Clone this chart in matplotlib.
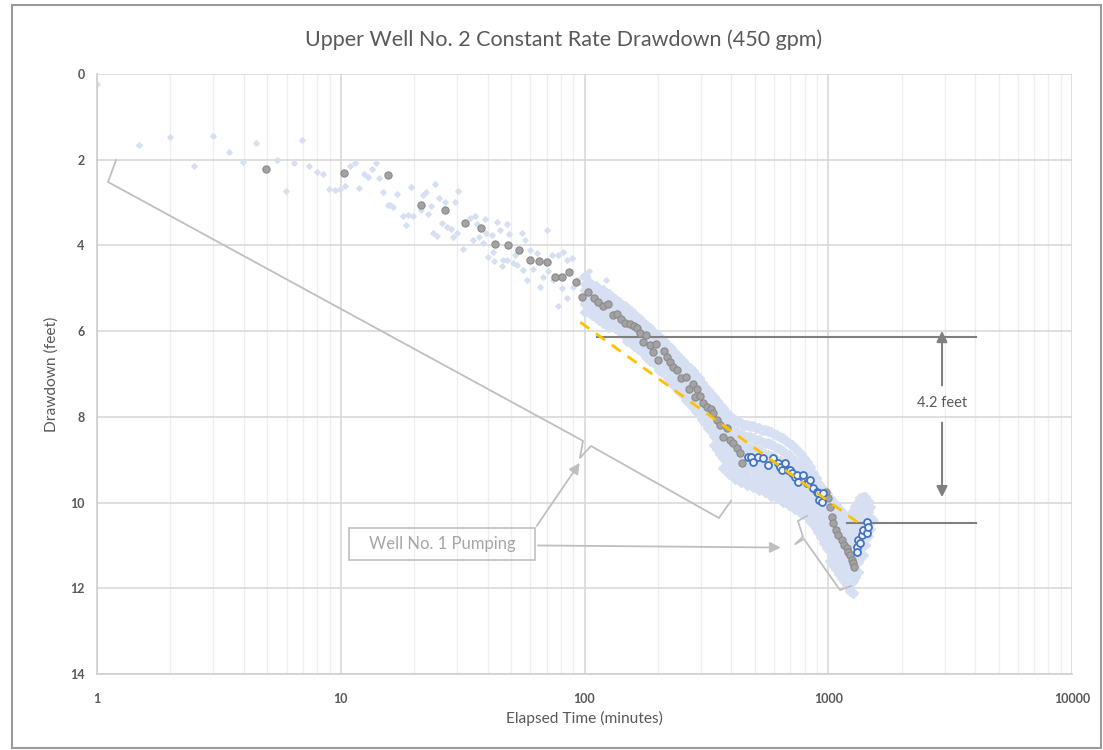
"""Upper Well No. 2 constant rate drawdown plot (semi-log)."""

import matplotlib
import matplotlib.pyplot as plt
from matplotlib.patches import Rectangle
from matplotlib.ticker import LogLocator, NullFormatter

matplotlib.use("Agg")

plt.rcParams["font.family"] = ["Lato", "DejaVu Sans"]

TEXT = "#595959"
GRID = "#d9d9d9"
MINOR = "#eeeeee"
CLOUD = "#d6e0f2"
GRAY_FILL = "#a3a3a3"
GRAY_EDGE = "#8a8a8a"
BLUE = "#4472c4"
ORANGE = "#ffc000"
NOTE = "#bfbfbf"
DARK = "#7f7f7f"

# ---- raw transducer readings (light blue cloud) ----
# early, sparse readings
sparse_t = [1.0, 1.49, 1.99, 2.50, 2.98, 3.49, 3.98, 4.48, 5.47, 5.97, 6.45, 6.95,
            7.43, 7.96, 8.43, 8.95, 9.45, 9.94, 10.4, 10.9, 11.4, 11.9, 12.4, 12.9,
            13.4, 13.9, 14.4, 14.9, 15.6, 17.0, 19.4, 21.7, 22.4, 24.4, 15.9, 16.4,
            18.0, 18.9, 19.8, 18.5, 21.3, 22.9, 23.4, 25.3, 26.8, 29.4, 30.2, 26.0,
            27.4, 28.3, 23.8, 24.8, 28.8, 29.9, 31.8, 32.3, 33.9, 35.6, 36.3, 39.1,
            39.4, 35.0, 37.0, 38.5, 41.6, 43.6, 45.0, 40.3, 42.3, 42.5, 45.7, 46.2,
            48.0, 48.0, 49.1, 50.8, 51.9, 52.7, 55.3, 55.8, 57.0, 57.9, 59.8, 61.7,
            63.7, 65.7, 67.8, 70.0, 71.0, 73.4, 74.1, 78.1, 78.1, 80.6, 81.8, 84.5,
            85.0, 88.6, 89.9, 92.9, 97.4, 98.9, 104, 105, 110, 116, 123]
sparse_d = [0.23, 1.66, 1.48, 2.15, 1.45, 1.83, 2.06, 1.61, 2.01, 2.73, 2.08, 1.55,
            2.15, 2.29, 2.33, 2.69, 2.71, 2.69, 2.61, 2.15, 2.08, 2.67, 2.33, 2.41,
            2.22, 2.08, 2.42, 2.75, 3.06, 2.81, 2.63, 2.82, 2.75, 2.57, 3.06, 3.11,
            3.31, 3.29, 3.31, 3.52, 3.17, 3.27, 3.08, 2.90, 2.99, 2.98, 2.72, 3.47,
            3.56, 3.62, 3.70, 3.77, 3.81, 3.70, 4.09, 3.47, 3.35, 3.31, 3.51, 3.38,
            3.72, 3.87, 3.81, 3.95, 3.76, 3.45, 3.64, 4.28, 4.15, 4.36, 4.48, 4.34,
            4.34, 3.51, 3.73, 4.40, 4.22, 4.46, 3.72, 4.57, 3.87, 4.81, 4.11, 4.56,
            4.18, 4.96, 4.73, 3.64, 4.59, 4.22, 4.81, 4.22, 5.41, 5.00, 4.15, 4.34,
            5.23, 4.30, 4.96, 4.81, 4.73, 5.35, 4.59, 5.55, 4.96, 5.66, 4.81]

# dense readings, grouped by time column
dense_cols = [
    (100, [4.72, 4.9, 5.04, 5.2, 5.36, 5.55]),
    (104, [4.85, 5.0, 5.14, 5.3, 5.5]),
    (107, [4.92, 5.1, 5.24, 5.4, 5.62]),
    (111, [4.95, 5.08, 5.2, 5.34, 5.5, 5.68]),
    (115, [5.02, 5.18, 5.33, 5.47, 5.74]),
    (119, [5.05, 5.2, 5.36, 5.5, 5.64, 5.8]),
    (122, [5.12, 5.26, 5.4, 5.55, 5.72]),
    (126, [5.14, 5.3, 5.46, 5.6, 5.9]),
    (130, [5.22, 5.38, 5.52, 5.66, 5.82]),
    (134, [5.25, 5.42, 5.56, 5.72, 5.92]),
    (138, [5.32, 5.48, 5.64, 5.8, 6.0]),
    (142, [5.38, 5.52, 5.68, 5.85]),
    (146, [5.42, 5.6, 5.76, 5.92, 6.12]),
    (150, [5.48, 5.66, 5.82, 6.0, 6.22]),
    (155, [5.54, 5.72, 5.88, 6.04, 6.2]),
    (160, [5.6, 5.78, 5.94, 6.1, 6.34]),
    (164, [5.66, 5.84, 6.0, 6.18, 6.4]),
    (169, [5.72, 5.9, 6.06, 6.22]),
    (174, [5.8, 5.98, 6.14, 6.3, 6.5]),
    (179, [5.86, 6.04, 6.2, 6.38, 6.6]),
    (185, [5.92, 6.1, 6.28, 6.46, 6.7]),
    (190, [6.0, 6.18, 6.34, 6.52]),
    (196, [6.06, 6.24, 6.42, 6.6, 6.8]),
    (202, [6.12, 6.3, 6.48, 6.66, 6.9]),
    (208, [6.2, 6.38, 6.56, 6.74, 6.96]),
    (214, [6.26, 6.44, 6.62, 6.82]),
    (220, [6.34, 6.52, 6.7, 6.9, 7.1]),
    (226, [6.4, 6.6, 6.78, 6.96, 7.2]),
    (233, [6.48, 6.68, 6.86, 7.04, 7.26]),
    (240, [6.56, 6.76, 6.94, 7.12, 7.34]),
    (247, [6.62, 6.82, 7.02, 7.2, 7.42]),
    (254, [6.7, 6.9, 7.1, 7.3, 7.5]),
    (262, [6.78, 6.98, 7.18, 7.38, 7.6]),
    (270, [6.86, 7.06, 7.26, 7.46, 7.7]),
    (278, [6.94, 7.14, 7.34, 7.54, 7.76]),
    (286, [7.02, 7.24, 7.44, 7.64, 7.86]),
    (295, [7.1, 7.32, 7.52, 7.72, 7.94]),
    (303, [7.2, 7.42, 7.62, 7.82, 8.04]),
    (312, [7.3, 7.52, 7.72, 7.92, 8.14]),
    (321, [7.38, 7.6, 7.8, 8.02, 8.26]),
    (330, [7.46, 7.68, 7.9, 8.1, 8.34]),
    (340, [7.54, 7.78, 8.0, 8.2, 8.44, 8.66]),
    (350, [7.62, 7.86, 8.08, 8.3, 8.52, 8.76]),
    (360, [7.72, 7.96, 8.18, 8.4, 8.62, 8.86]),
    (370, [7.8, 8.04, 8.28, 8.5, 8.72, 8.96, 9.2]),
    (381, [7.9, 8.14, 8.36, 8.58, 8.8, 9.04]),
    (392, [7.96, 8.2, 8.44, 8.66, 8.88, 9.12, 9.34]),
    (403, [8.02, 8.28, 8.5, 8.72, 8.94, 9.18]),
    (415, [8.08, 8.34, 8.56, 8.78, 9.0, 9.24, 9.46]),
    (427, [8.12, 8.38, 8.62, 8.84, 9.06, 9.3]),
    (440, [8.14, 8.4, 8.64, 8.86, 9.08, 9.3, 9.52]),
    (452, [8.18, 8.44, 8.68, 8.9, 9.12, 9.36]),
    (465, [8.18, 8.46, 8.7, 8.92, 9.14, 9.36, 9.58]),
    (478, [8.22, 8.48, 8.72, 8.96, 9.18, 9.42]),
    (492, [8.22, 8.5, 8.74, 8.98, 9.2, 9.42, 9.64]),
    (506, [8.26, 8.54, 8.78, 9.02, 9.24, 9.48]),
    (520, [8.26, 8.54, 8.8, 9.04, 9.26, 9.48, 9.7]),
    (535, [8.3, 8.58, 8.84, 9.08, 9.3, 9.54]),
    (550, [8.3, 8.6, 8.86, 9.1, 9.32, 9.54, 9.76]),
    (566, [8.34, 8.62, 8.9, 9.14, 9.36, 9.6]),
    (582, [8.36, 8.64, 8.92, 9.16, 9.4, 9.62, 9.84]),
    (598, [8.4, 8.68, 8.96, 9.2, 9.44, 9.68]),
    (615, [8.42, 8.72, 9.0, 9.24, 9.48, 9.72, 9.9]),
    (632, [8.46, 8.76, 9.04, 9.28, 9.52, 9.76]),
    (650, [8.5, 8.8, 9.08, 9.32, 9.56, 9.8, 9.98]),
    (669, [8.56, 8.86, 9.12, 9.38, 9.62, 9.86]),
    (688, [8.6, 8.9, 9.18, 9.44, 9.68, 9.92, 10.06]),
    (708, [8.66, 8.96, 9.24, 9.5, 9.74, 9.98]),
    (728, [8.72, 9.02, 9.3, 9.56, 9.8, 10.04, 10.14]),
    (749, [8.8, 9.1, 9.38, 9.64, 9.88, 10.1]),
    (770, [8.86, 9.16, 9.44, 9.7, 9.94, 10.18, 10.24]),
    (792, [8.96, 9.26, 9.52, 9.78, 10.02, 10.26]),
    (815, [9.06, 9.34, 9.6, 9.86, 10.1, 10.32]),
    (838, [9.18, 9.46, 9.72, 9.96, 10.2, 10.42]),
    (862, [9.3, 9.56, 9.82, 10.06, 10.3, 10.5]),
    (887, [9.42, 9.68, 9.92, 10.16, 10.4, 10.6]),
    (912, [9.54, 9.78, 10.02, 10.26, 10.5, 10.68]),
    (938, [9.64, 9.88, 10.12, 10.36, 10.6, 10.8]),
    (965, [9.72, 9.98, 10.22, 10.46, 10.7, 10.94]),
    (992, [9.8, 10.06, 10.32, 10.56, 10.8, 11.06]),
    (1020, [9.9, 10.16, 10.42, 10.66, 10.9, 11.14, 11.36]),
    (1047, [9.98, 10.24, 10.5, 10.76, 11.0, 11.24, 11.46]),
    (1075, [10.06, 10.32, 10.58, 10.84, 11.08, 11.32, 11.56]),
    (1105, [10.14, 10.4, 10.66, 10.92, 11.16, 11.4, 11.66]),
    (1135, [10.22, 10.48, 10.74, 11.0, 11.24, 11.5, 11.76]),
    (1165, [10.3, 10.56, 10.82, 11.08, 11.32, 11.58, 11.84]),
    (1195, [10.36, 10.62, 10.88, 11.14, 11.4, 11.66, 11.92]),
    (1227, [10.3, 10.58, 10.86, 11.12, 11.38, 11.64, 11.9, 12.06]),
    (1260, [10.2, 10.48, 10.76, 11.04, 11.3, 11.56, 11.82, 12.12]),
    (1290, [10.08, 10.36, 10.64, 10.92, 11.2, 11.46, 11.74]),
    (1320, [9.98, 10.26, 10.54, 10.82, 11.1, 11.38, 11.62]),
    (1352, [9.9, 10.18, 10.46, 10.74, 11.02, 11.3]),
    (1385, [9.86, 10.12, 10.4, 10.68, 10.96, 11.22]),
    (1418, [9.86, 10.14, 10.42, 10.7, 10.98]),
    (1450, [9.96, 10.22, 10.5, 10.78]),
    (1485, [10.1, 10.36, 10.62]),
    (1520, [10.4]),
]

# ---- averaged readings (gray) ----
avg_t = [4.94, 10.3, 15.6, 21.3, 26.7, 32.3, 37.5, 43.1, 48.5, 54.0, 59.6, 64.9,
         70.4, 75.6, 81.0, 86.6, 91.9, 97.4, 103, 109, 114, 119, 125, 131, 136,
         141, 147, 153, 159, 164, 169, 179, 173, 185, 197, 191, 201, 211, 217,
         224, 231, 240, 250, 261, 269, 278, 289, 284, 298, 307, 317, 329, 338,
         348, 360, 369, 383, 395, 408, 421, 434, 441,
         979, 1000, 1016, 1033, 1049, 1076, 1100, 1135, 1161, 1191, 1209, 1228,
         1248, 1268, 1276]
avg_d = [2.22, 2.31, 2.36, 3.05, 3.18, 3.47, 3.59, 3.96, 4.00, 4.11, 4.33, 4.37,
         4.39, 4.73, 4.73, 4.63, 4.85, 5.20, 5.08, 5.23, 5.31, 5.41, 5.37, 5.62,
         5.61, 5.72, 5.80, 5.84, 5.88, 5.92, 6.05, 6.09, 6.25, 6.32, 6.31, 6.48,
         6.67, 6.46, 6.61, 6.71, 6.84, 6.91, 7.10, 7.08, 7.36, 7.23, 7.36, 7.53,
         7.51, 7.68, 7.76, 7.82, 7.90, 8.07, 8.19, 8.46, 8.27, 8.54, 8.62, 8.73,
         8.85, 9.08,
         9.75, 9.90, 10.10, 10.33, 10.48, 10.64, 10.76, 10.87, 10.99, 11.07,
         11.15, 11.22, 11.34, 11.42, 11.50]

# ---- readings while Well No. 1 was pumping (blue) ----
pump_t = [470, 480, 492, 516, 541, 567, 595, 624, 634, 644, 665, 686, 697, 708,
          731, 743, 754, 790, 816, 829, 842, 869, 897, 908, 919, 940, 948,
          1309, 1313, 1329, 1350, 1371, 1393, 1438, 1438, 1459]
pump_d = [8.93, 8.93, 9.05, 8.93, 8.97, 9.12, 8.97, 9.08, 9.16, 9.24, 9.08, 9.24,
          9.24, 9.32, 9.40, 9.36, 9.51, 9.36, 9.55, 9.55, 9.47, 9.67, 9.75, 9.78,
          9.94, 9.98, 9.77,
          11.03, 11.15, 10.87, 10.95, 10.76, 10.64, 10.45, 10.72, 10.56]

# ---- straight-line fit (orange) ----
fit_t = [96, 1350]
fit_d = [5.79, 10.5]

# ---- annotation geometry (data units) ----
brace1_t = [1.197, 1.11, 98.6, 95.8, 106.3, 356, 399]
brace1_d = [2.007, 2.52, 8.56, 8.96, 8.68, 10.36, 9.96]
brace2_t = [818, 751, 788, 731, 795, 1117, 1240]
brace2_d = [10.31, 10.43, 10.80, 10.97, 10.85, 12.04, 11.95]
delta_t = 2929
delta_top, delta_bot = 5.93, 9.94
ref_top = ([113, 4036], 6.13)
ref_bot = ([1194, 4036], 10.48)

dense_t = [t for t, ds in dense_cols for _ in ds]
dense_d = [d for _, ds in dense_cols for d in ds]

fig = plt.figure(figsize=(11.03, 7.5), dpi=100)
ax = fig.add_axes([97 / 1103, 76 / 750, 975 / 1103, 600 / 750])

ax.set_xscale("log")
ax.set_xlim(1, 10000)
ax.set_ylim(14, 0)

ax.plot(sparse_t, sparse_d, ls="none", marker="D", ms=2.8, mfc=CLOUD, mec=CLOUD,
        zorder=2)
ax.plot(dense_t, dense_d, ls="none", marker="D", ms=4.6, mfc=CLOUD, mec=CLOUD,
        zorder=2)

ax.plot(brace1_t, brace1_d, color=NOTE, lw=1.3, zorder=3)
ax.plot(brace2_t, brace2_d, color=NOTE, lw=1.3, zorder=3)

ax.plot(avg_t, avg_d, ls="none", marker="o", ms=5.2, mfc=GRAY_FILL, mec=GRAY_EDGE,
        mew=0.8, zorder=4)
ax.plot(pump_t, pump_d, ls="none", marker="o", ms=5.0, mfc="#eef2fa", mec=BLUE,
        mew=1.3, zorder=5)
ax.plot(fit_t, fit_d, color=ORANGE, lw=2.0, ls=(0, (4, 3)), zorder=6)

# 4.2 ft difference markers
ax.plot(ref_top[0], [ref_top[1]] * 2, color=DARK, lw=1.5, zorder=3)
ax.plot(ref_bot[0], [ref_bot[1]] * 2, color=DARK, lw=1.5, zorder=3)
mid = 7.68
arrow = dict(arrowstyle="-|>", color=DARK, lw=1.5, mutation_scale=16)
ax.annotate("", xy=(delta_t, delta_top), xytext=(delta_t, 7.33), arrowprops=arrow)
ax.annotate("", xy=(delta_t, delta_bot), xytext=(delta_t, 8.07), arrowprops=arrow)
ax.text(delta_t, mid, "4.2 feet", ha="center", va="center", fontsize=10.5, color=TEXT)

# Well No. 1 callout
ax.add_patch(Rectangle((10.8, 10.59), 62.7 - 10.8, 11.34 - 10.59, fill=False,
                       ec=NOTE, lw=1.2, zorder=3))
ax.text(26.0, 10.97, "Well No. 1 Pumping", ha="center", va="center", fontsize=12,
        color="#a6a6a6")
callout = dict(arrowstyle="-|>", color=NOTE, lw=1.3, mutation_scale=16)
ax.annotate("", xy=(97, 9.02), xytext=(62.7, 10.6), arrowprops=callout)
ax.annotate("", xy=(655, 11.05), xytext=(62.7, 11.0), arrowprops=callout)

# axes styling
ax.set_xticks([1, 10, 100, 1000, 10000])
ax.set_xticklabels(["1", "10", "100", "1000", "10000"])
ax.xaxis.set_minor_locator(LogLocator(base=10, subs=range(2, 10)))
ax.xaxis.set_minor_formatter(NullFormatter())
ax.set_yticks(range(0, 15, 2))
ax.tick_params(which="both", length=0, labelsize=9, labelcolor=TEXT)
ax.tick_params(axis="x", pad=14)
ax.tick_params(axis="y", pad=9)
for lab in ax.get_xticklabels() + ax.get_yticklabels():
    lab.set_fontweight("bold")

ax.grid(True, which="major", color=GRID, lw=1.2, zorder=0)
ax.grid(True, which="minor", axis="x", color=MINOR, lw=0.9, zorder=0)
ax.set_axisbelow(True)
for side in ("top", "right"):
    ax.spines[side].set_visible(False)
for side in ("left", "bottom"):
    ax.spines[side].set_color("#cfcfcf")
    ax.spines[side].set_linewidth(1.2)

fig.text(564 / 1103, 1 - 40 / 750, "Upper Well No. 2 Constant Rate Drawdown (450 gpm)",
         ha="center", va="center", fontsize=15.5, color=TEXT)
fig.text(584 / 1103, 1 - 718 / 750, "Elapsed Time (minutes)", ha="center",
         va="center", fontsize=11.2, color=TEXT)
fig.text(52 / 1103, 1 - 374 / 750, "Drawdown (feet)", ha="center", va="center",
         rotation=90, fontsize=11.2, color=TEXT)

# chart frame from the spreadsheet screenshot
fig.add_artist(Rectangle((12 / 1103, 2 / 750), 1089 / 1103, 743 / 750,
                         transform=fig.transFigure, fill=False, ec="#9a9a9a", lw=1.5))

fig.savefig("out.png", dpi=100)
plt.close(fig)
